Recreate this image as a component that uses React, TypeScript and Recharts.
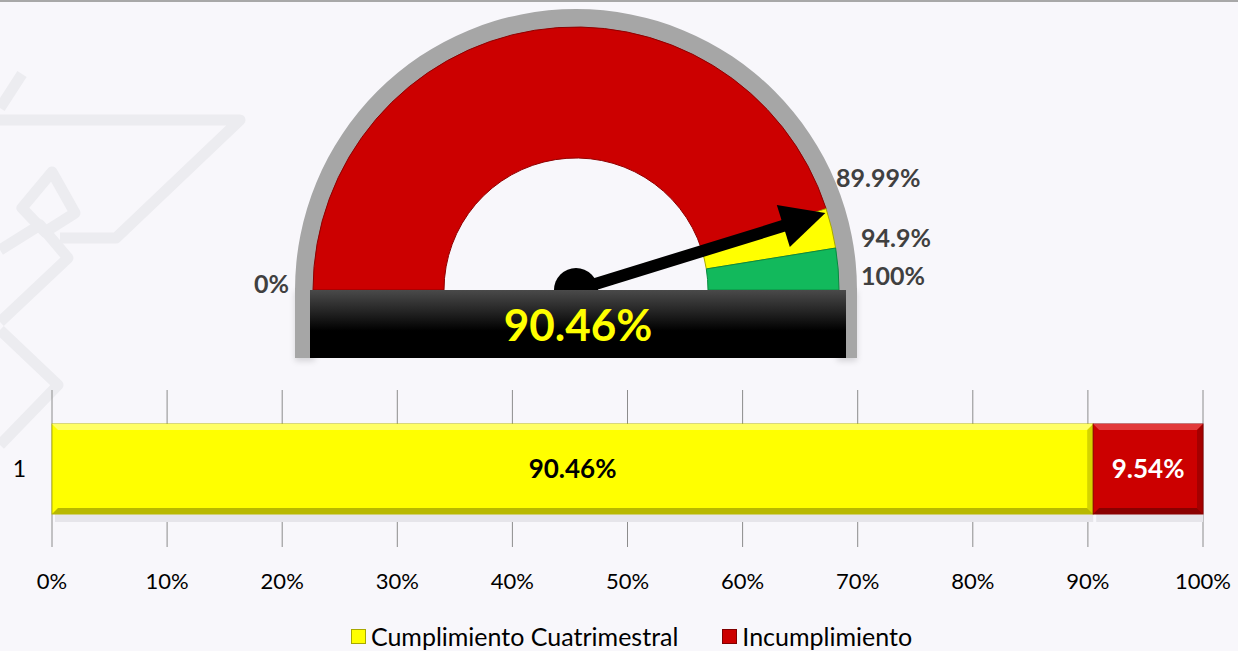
import React from "react";
import {
  PieChart,
  Pie,
  Cell,
  BarChart,
  Bar,
  XAxis,
  YAxis,
  CartesianGrid,
  Legend,
  LabelList,
} from "recharts";

// gauge thresholds (upper limit of each band, in %)
const gaugeLabels = ["Incumplimiento", "Alerta", "Cumplimiento"];
const gaugeLimits = [89.99, 94.9, 100];
const gaugeColors = ["#cc0000", "#ffff00", "#12b95c"];
const gaugeValue = 90.46;

// bottom stacked bar
const barCategories = ["1"];
const cumplimiento = [90.46];
const incumplimiento = [9.54];
const xTicks = [0, 10, 20, 30, 40, 50, 60, 70, 80, 90, 100];

const FONT = "Lato, 'Open Sans', sans-serif";
const BG = "#f8f7fb";

// gauge geometry
const CX = 576;
const CY = 290;
const INNER = 132;
const OUTER = 263;

const gaugeData = gaugeLimits.map((lim, i) => ({
  name: gaugeLabels[i],
  value: lim - (i === 0 ? 0 : gaugeLimits[i - 1]),
}));

const barData = barCategories.map((c, i) => ({
  name: c,
  cumplimiento: cumplimiento[i],
  incumplimiento: incumplimiento[i],
}));

function Needle() {
  const a = ((180 - (gaugeValue / 100) * 180) * Math.PI) / 180;
  const tipR = OUTER - 2;
  const tx = CX + tipR * Math.cos(a);
  const ty = CY - tipR * Math.sin(a);
  const ux = Math.cos(a);
  const uy = -Math.sin(a);
  const px = -uy;
  const py = ux;
  const headLen = 44;
  const headW = 22;
  const bx = tx - ux * headLen;
  const by = ty - uy * headLen;
  return (
    <g>
      <line x1={CX} y1={CY} x2={bx + ux * 2} y2={by + uy * 2} stroke="#000" strokeWidth={12} />
      <polygon
        points={`${tx},${ty} ${bx + px * headW},${by + py * headW} ${bx - px * headW},${by - py * headW}`}
        fill="#000"
      />
      <circle cx={CX} cy={CY} r={22} fill="#000" />
    </g>
  );
}

function GaugeLabels() {
  const style = { fontFamily: FONT, fontWeight: 700, fontSize: 25, fill: "#404040" };
  return (
    <g>
      <text x={289} y={293} textAnchor="end" style={style}>0%</text>
      <text x={836} y={187} style={style}>89.99%</text>
      <text x={861} y={247} style={style}>94.9%</text>
      <text x={861} y={285} style={style}>100%</text>
    </g>
  );
}

function BevelBar(props: any) {
  const { x, y, width, height, fill, dark, light } = props;
  const b = 6;
  return (
    <g>
      <rect x={x + 3} y={y + height} width={width - 3} height={8} fill="#e6e5ea" />
      <rect x={x} y={y} width={width} height={height} fill={fill} stroke={dark} strokeWidth={1} />
      <polygon
        points={`${x},${y} ${x + width},${y} ${x + width - b},${y + b} ${x + b},${y + b}`}
        fill={light}
      />
      <polygon
        points={`${x},${y + height} ${x + width},${y + height} ${x + width - b},${y + height - b} ${x + b},${y + height - b}`}
        fill={dark}
      />
      <polygon
        points={`${x + width},${y} ${x + width},${y + height} ${x + width - b},${y + height - b} ${x + width - b},${y + b}`}
        fill={dark}
        opacity={0.6}
      />
    </g>
  );
}

function LegendContent() {
  const item = (color: string, border: string, label: string) => (
    <div style={{ display: "flex", alignItems: "center", gap: 5 }}>
      <div
        style={{
          width: 13,
          height: 13,
          background: color,
          border: `1px solid ${border}`,
        }}
      />
      <span>{label}</span>
    </div>
  );
  return (
    <div
      style={{
        display: "flex",
        justifyContent: "center",
        gap: 44,
        fontFamily: FONT,
        fontSize: 25,
        lineHeight: "30px",
        color: "#000",
        paddingLeft: 60,
        paddingTop: 20,
      }}
    >
      {item("#ffff00", "#a8a800", "Cumplimiento Cuatrimestral")}
      {item("#cc0000", "#800000", "Incumplimiento")}
    </div>
  );
}

function Watermark() {
  const s = { fill: "none", stroke: "#ececf0", strokeWidth: 11, strokeLinejoin: "round" as const };
  return (
    <svg width={260} height={460} style={{ position: "absolute", left: 0, top: 0 }}>
      <polyline points="0,108 22,74" {...s} />
      <polyline points="0,120 240,120 116,238 60,238" {...s} />
      <polygon points="52,172 75,213 45,232 22,208" {...s} />
      <polyline points="0,250 40,225 68,258 0,322" {...s} />
      <polyline points="0,330 58,385 0,445" {...s} />
    </svg>
  );
}

export default function App() {
  return (
    <div
      style={{
        position: "absolute",
        left: 0,
        top: 0,
        width: 1238,
        height: 651,
        background: BG,
        overflow: "hidden",
      }}
    >
      <div style={{ position: "absolute", left: 0, top: 0, width: 1238, height: 2, background: "#a8a8a8" }} />
      <Watermark />

      {/* rim extension below the center line */}
      <div style={{ position: "absolute", left: 295, top: CY - 2, width: 20, height: 70, background: "#a6a6a6", boxShadow: "0 3px 6px rgba(0,0,0,0.15)" }} />
      <div style={{ position: "absolute", left: 837, top: CY - 2, width: 20, height: 70, background: "#a6a6a6", boxShadow: "0 3px 6px rgba(0,0,0,0.15)" }} />

      <div style={{ position: "absolute", left: 0, top: 0 }}>
        <PieChart width={1238} height={380} margin={{ top: 0, right: 0, bottom: 0, left: 0 }}>
          <Pie
            data={[{ name: "rim", value: 1 }]}
            dataKey="value"
            cx={CX}
            cy={CY}
            startAngle={180}
            endAngle={0}
            innerRadius={OUTER - 1}
            outerRadius={OUTER + 18}
            fill="#a6a6a6"
            stroke="none"
            isAnimationActive={false}
          />
          <Pie
            data={gaugeData}
            dataKey="value"
            cx={CX}
            cy={CY}
            startAngle={180}
            endAngle={0}
            innerRadius={INNER}
            outerRadius={OUTER}
            strokeWidth={1}
            isAnimationActive={false}
          >
            {gaugeData.map((d, i) => (
              <Cell key={d.name} fill={gaugeColors[i]} stroke={i === 0 ? "#8f0000" : i === 1 ? "#a8a800" : "#0a8a40"} />
            ))}
          </Pie>
        </PieChart>
      </div>

      {/* needle and threshold labels on top of the gauge */}
      <svg width={1238} height={380} style={{ position: "absolute", left: 0, top: 0 }}>
        <Needle />
        <GaugeLabels />
      </svg>

      {/* value box */}
      <div
        style={{
          position: "absolute",
          left: 310,
          top: CY,
          width: 536,
          height: 68,
          background: "linear-gradient(#4a4a4a 0%, #262626 30%, #000 60%, #000 100%)",
          display: "flex",
          alignItems: "center",
          justifyContent: "center",
          fontFamily: FONT,
          fontWeight: 700,
          fontSize: 44,
          color: "#ffff00",
        }}
      >
        {gaugeValue.toFixed(2)}%
      </div>

      <div style={{ position: "absolute", left: 0, top: 370 }}>
        <BarChart
          width={1238}
          height={281}
          data={barData}
          layout="vertical"
          margin={{ top: 20, right: 35, left: 0, bottom: 0 }}
          barSize={90}
        >
          <CartesianGrid horizontal={false} vertical stroke="#8c8c8c" />
          <XAxis
            type="number"
            domain={[0, 100]}
            ticks={xTicks}
            tickFormatter={(v) => `${v}%`}
            axisLine={false}
            tickLine={false}
            tickMargin={20}
            height={54}
            tick={{ fontFamily: FONT, fontSize: 22, fill: "#000" }}
            interval={0}
          />
          <YAxis
            type="category"
            dataKey="name"
            width={52}
            axisLine={false}
            tickLine={false}
            tickMargin={20}
            tick={{ fontFamily: FONT, fontSize: 23, fill: "#000" }}
          />
          <Legend verticalAlign="bottom" height={50} content={() => <LegendContent />} />
          <Bar
            dataKey="cumplimiento"
            stackId="a"
            fill="#ffff00"
            isAnimationActive={false}
            shape={(p: any) => <BevelBar {...p} dark="#b8b800" light="#ffff66" />}
          >
            <LabelList
              dataKey="cumplimiento"
              position="center"
              formatter={(v: any) => `${v}%`}
              style={{ fontFamily: FONT, fontWeight: 700, fontSize: 26, fill: "#000" }}
            />
          </Bar>
          <Bar
            dataKey="incumplimiento"
            stackId="a"
            fill="#cc0000"
            isAnimationActive={false}
            shape={(p: any) => <BevelBar {...p} dark="#8a0000" light="#e23a3a" />}
          >
            <LabelList
              dataKey="incumplimiento"
              position="center"
              formatter={(v: any) => `${v}%`}
              style={{ fontFamily: FONT, fontWeight: 700, fontSize: 26, fill: "#fff" }}
            />
          </Bar>
        </BarChart>
      </div>
    </div>
  );
}
